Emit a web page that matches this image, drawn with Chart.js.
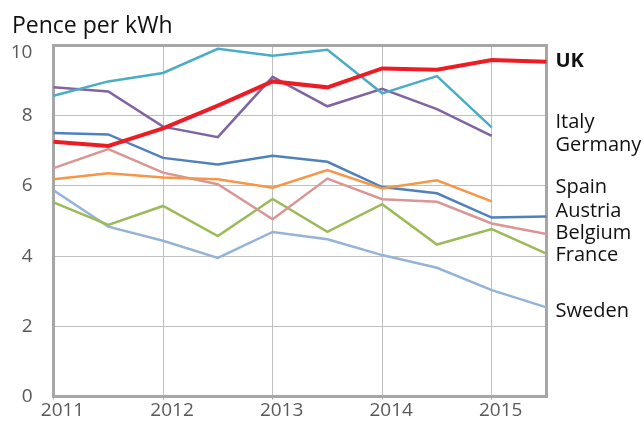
<!DOCTYPE html>
<html>
<head>
<meta charset="utf-8">
<script src="https://cdn.jsdelivr.net/npm/chart.js@4/dist/chart.umd.min.js"></script>
<style>
  html, body { margin: 0; padding: 0; background: #ffffff; overflow: hidden; }
  #wrap { width: 644px; height: 421px; position: relative; }
</style>
</head>
<body>
<div id="wrap"><canvas id="c"></canvas></div>
<script>
// ---- data ----
const periods = [2011, 2011.5, 2012, 2012.5, 2013, 2013.5, 2014, 2014.5, 2015, 2015.5];
const xTickLabels = [2011, 2012, 2013, 2014, 2015];
const yTickValues = [0, 2, 4, 6, 8, 10];
const countries = ['UK', 'Italy', 'Germany', 'Spain', 'Austria', 'Belgium', 'France', 'Sweden'];
const uk      = [7.26, 7.14, 7.64, 8.29, 8.98, 8.81, 9.35, 9.31, 9.59, 9.54];
const italy   = [8.57, 8.98, 9.22, 9.91, 9.71, 9.88, 8.64, 9.13, 7.67];
const germany = [8.81, 8.69, 7.69, 7.39, 9.11, 8.27, 8.77, 8.19, 7.43];
const spain   = [6.19, 6.36, 6.24, 6.19, 5.95, 6.45, 5.93, 6.16, 5.56];
const austria = [7.51, 7.47, 6.80, 6.61, 6.86, 6.69, 5.97, 5.79, 5.10, 5.13];
const belgium = [6.51, 7.05, 6.38, 6.05, 5.05, 6.21, 5.62, 5.55, 4.93, 4.63];
const france  = [5.53, 4.89, 5.43, 4.57, 5.63, 4.69, 5.48, 4.33, 4.77, 4.07];
const sweden  = [5.88, 4.84, 4.44, 3.95, 4.69, 4.48, 4.03, 3.67, 3.03, 2.54];
// vertical anchor (in pence, baseline) of the right-hand name labels
const labelPos = [9.38, 7.64, 7.00, 5.79, 5.12, 4.49, 3.86, 2.27];

const seriesValues = [uk, italy, germany, spain, austria, belgium, france, sweden];
const colors = ['#ed1c24', '#4bacc6', '#8064a2', '#f79646', '#4f81bd', '#d99694', '#9bbb59', '#95b3d7'];
const widths = [4, 2.5, 2.5, 2.5, 2.5, 2.5, 2.5, 2.5];

const FONT = "'Open Sans', 'DejaVu Sans', sans-serif";
const Y_MAX = yTickValues[yTickValues.length - 1];

const datasets = countries.map((name, i) => ({
  label: name,
  data: seriesValues[i].map((v, j) => ({ x: periods[j], y: v })),
  borderColor: colors[i],
  backgroundColor: colors[i],
  borderWidth: widths[i],
  pointRadius: 0,
  pointHoverRadius: 0,
  tension: 0,
  fill: false,
  order: i,
  clip: 4
}));

const framePlugin = {
  id: 'frame',
  beforeDatasetsDraw(chart) {
    const { ctx, chartArea: a } = chart;
    ctx.save();
    ctx.strokeStyle = '#a6a6a6';
    ctx.lineWidth = 3;
    ctx.beginPath();
    ctx.moveTo(a.left - 1.5, a.top);
    ctx.lineTo(a.right, a.top);
    ctx.lineTo(a.right, a.bottom + 1.5);
    ctx.stroke();
    ctx.restore();
  }
};

const namesPlugin = {
  id: 'names',
  afterDatasetsDraw(chart) {
    const { ctx, chartArea: a } = chart;
    const ys = chart.scales.y;
    ctx.save();
    ctx.fillStyle = '#111111';
    ctx.textAlign = 'left';
    ctx.textBaseline = 'alphabetic';
    countries.forEach((name, i) => {
      ctx.font = (i === 0 ? 'bold ' : '') + '20px ' + FONT;
      ctx.fillText(name, a.right + 9, ys.getPixelForValue(labelPos[i]));
    });
    // top tick label, kept inside the frame as in the original
    ctx.font = '19px ' + FONT;
    ctx.fillStyle = '#595959';
    ctx.textAlign = 'center';
    ctx.textBaseline = 'middle';
    ctx.fillText(String(Y_MAX), 21.5, ys.getPixelForValue(Y_MAX) + 7);
    ctx.restore();
  }
};

new Chart(document.getElementById('c'), {
  type: 'line',
  data: { datasets },
  options: {
    responsive: true,
    maintainAspectRatio: false,
    animation: false,
    layout: { autoPadding: false, padding: { left: 12, right: 97.5, top: 0, bottom: 0 } },
    plugins: {
      legend: { display: false },
      tooltip: { enabled: false },
      title: {
        display: true,
        text: 'Pence per kWh',
        align: 'start',
        color: '#111111',
        font: { family: FONT, size: 23, weight: 'normal' },
        padding: { top: 13, bottom: 5 }
      }
    },
    scales: {
      x: {
        type: 'linear',
        min: periods[0],
        max: periods[periods.length - 1],
        afterBuildTicks(scale) { scale.ticks = xTickLabels.map(v => ({ value: v })); },
        afterFit(scale) { scale.height = 24.5; },
        grid: { color: '#bfbfbf', lineWidth: 1, drawTicks: true, tickLength: 3, tickColor: '#a6a6a6' },
        border: { color: '#a6a6a6', width: 3 },
        ticks: {
          color: '#595959',
          font: { family: FONT, size: 19 },
          padding: 0,
          labelOffset: 9,
          maxRotation: 0,
          autoSkip: false,
          callback: v => String(v)
        }
      },
      y: {
        min: 0,
        max: Y_MAX,
        afterBuildTicks(scale) { scale.ticks = yTickValues.map(v => ({ value: v })); },
        afterFit(scale) { scale.width = 41.5; scale.paddingTop = 0; scale.paddingBottom = 0; },
        grid: { color: '#bfbfbf', lineWidth: 1, drawTicks: false },
        border: { color: '#a6a6a6', width: 3 },
        ticks: {
          color: '#595959',
          font: { family: FONT, size: 19 },
          padding: 21,
          crossAlign: 'center',
          callback: v => (v === Y_MAX ? '' : String(v))
        }
      }
    }
  },
  plugins: [framePlugin, namesPlugin]
});
</script>
</body>
</html>
